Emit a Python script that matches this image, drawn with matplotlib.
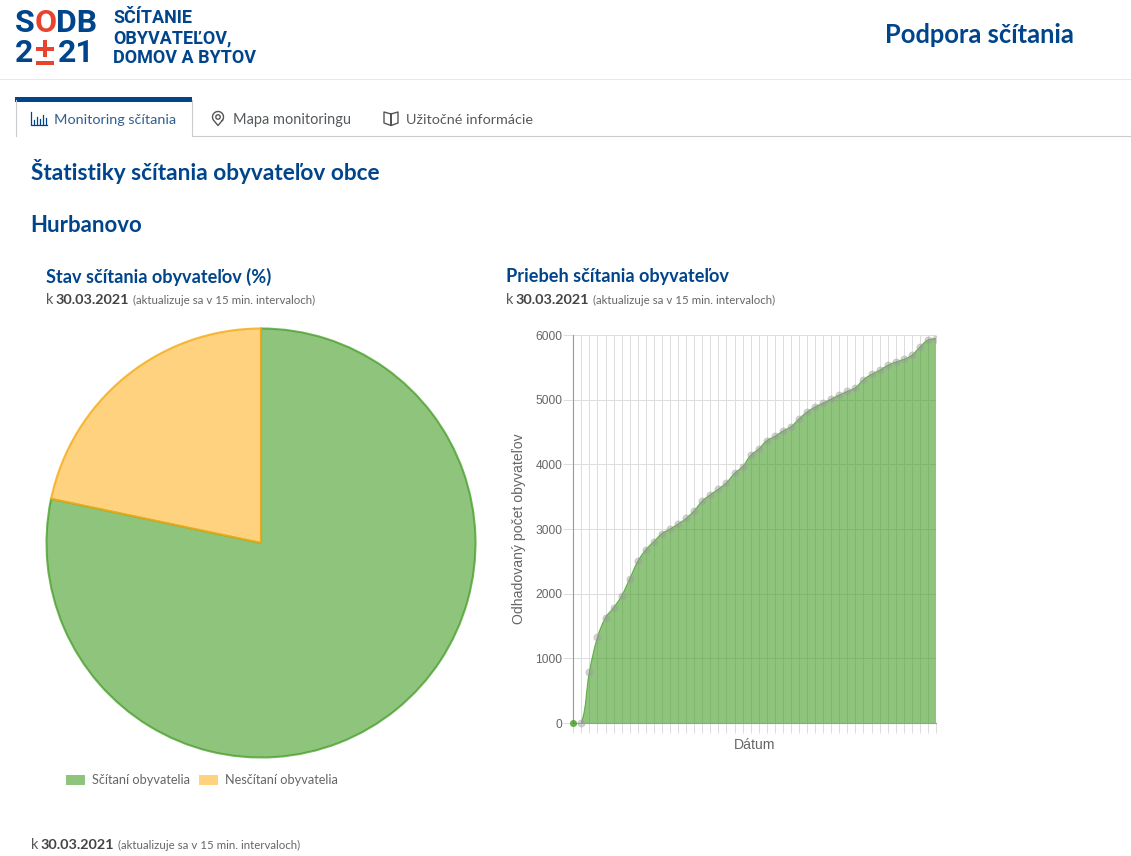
import numpy as np
import matplotlib
matplotlib.use('Agg')
import matplotlib.pyplot as plt
from matplotlib.patches import Rectangle, Circle, PathPatch, Patch
from matplotlib.path import Path

# values
day_index = list(range(46))
people = [0, 0, 794, 1325, 1630, 1783, 1969, 2232, 2500, 2680, 2804, 2930, 3000, 3077, 3165,
          3283, 3433, 3530, 3618, 3716, 3860, 3964, 4139, 4237, 4366, 4433, 4515, 4582, 4701,
          4809, 4887, 4948, 5010, 5072, 5129, 5186, 5309, 5392, 5454, 5531, 5582, 5624, 5686,
          5814, 5923, 5943]
y_ticks = [0, 1000, 2000, 3000, 4000, 5000, 6000]
pie_labels = ['Sčítaní obyvatelia', 'Nesčítaní obyvatelia']
pie_values = [78.3, 21.7]

W, H = 1131, 856
NAVY = '#00458b'
TXT = '#55595c'
RED = '#e8432e'
GREEN = (68/255, 157/255, 38/255, 0.6)
GREEN_EDGE = (68/255, 157/255, 38/255, 0.75)
YELLOW = (1, 180/255, 42/255, 0.6)
YELLOW_EDGE = (245/255, 170/255, 20/255, 0.8)
SANS = 'Lato'
LOGO = 'Roboto'

fig = plt.figure(figsize=(W/100, H/100), dpi=100)
page = fig.add_axes([0, 0, 1, 1])
page.set_xlim(0, W)
page.set_ylim(H, 0)
page.axis('off')


def put(x, y, s, px, color=TXT, weight='normal', family=SANS, ha='left'):
    page.text(x, y, s, fontsize=px*0.72, color=color, fontweight=weight, family=family, ha=ha, va='center')


def date_line(x, y):
    put(x, y, 'k', 14.5, TXT)
    put(x+10, y, '30.03.2021', 14.4, '#444444', 'bold')
    put(x+87, y, '(aktualizuje sa v 15 min. intervaloch)', 11.55, '#666666')


# header
page.add_patch(Rectangle((0, 79), W, 1, color='#e8e8e8', lw=0))
put(15, 23, 'S', 32, NAVY, 'bold', LOGO)
put(35, 23, 'O', 32, RED, 'bold', LOGO)
put(55.5, 23, 'DB', 32, NAVY, 'bold', LOGO)
put(15, 53, '2', 32, NAVY, 'bold', LOGO)
page.add_patch(Rectangle((36, 60.5), 17.5, 4, color=RED, lw=0))
page.add_patch(Rectangle((36, 46.5), 17.5, 4, color=RED, lw=0))
page.add_patch(Rectangle((42.8, 40), 4, 17, color=RED, lw=0))
put(58, 53, '21', 32, NAVY, 'bold', LOGO)
put(113, 18, 'SČÍTANIE', 18, NAVY, 'bold', LOGO)
put(113, 38, 'OBYVATEĽOV,', 18, NAVY, 'bold', LOGO)
put(113, 58, 'DOMOV A BYTOV', 18, NAVY, 'bold', LOGO)
put(1074, 35, 'Podpora sčítania', 25.5, NAVY, 'bold', ha='right')

# tabs
page.plot([192, W], [135.5, 135.5], color='#cccccc', lw=0.8)
page.plot([15.5, 15.5], [100, 136], color='#cccccc', lw=0.8)
page.plot([191.5, 191.5], [100, 136], color='#cccccc', lw=0.8)
page.add_patch(Rectangle((15, 97), 177, 5, color=NAVY, lw=0))
put(54, 120, 'Monitoring sčítania', 14.4, '#2f5f8f')
put(233, 120, 'Mapa monitoringu', 14.5, TXT)
put(406, 120, 'Užitočné informácie', 14.4, TXT)
# tab icons
page.plot([31, 31, 47], [112, 125, 125], color=NAVY, lw=0.9)
for bx, bt in zip([34, 37, 40, 43, 46], [120, 117, 119, 115, 118]):
    page.plot([bx, bx], [123.5, bt], color=NAVY, lw=0.9)
pin_t = np.linspace(-0.2*np.pi, 1.2*np.pi, 30)
page.plot(list(218+5.5*np.cos(pin_t)) + [218, 218+5.5*np.cos(pin_t[0])],
          list(117-5.5*np.sin(pin_t)) + [125.5, 117-5.5*np.sin(pin_t[0])], color='#555555', lw=1)
page.add_patch(Circle((218, 117), 2.2, fc='none', ec='#555555', lw=1))
page.plot([391, 384, 384, 391, 391, 391, 398, 398, 391], [114, 112, 123, 125.5, 114, 125.5, 123, 112, 114],
          color='#555555', lw=1)

# headings
put(31, 171, 'Štatistiky sčítania obyvateľov obce', 22.6, NAVY, 'bold')
put(30.5, 225, 'Hurbanovo', 22.3, NAVY, 'bold')
put(46, 276.5, 'Stav sčítania obyvateľov (%)', 18.2, NAVY, 'bold')
date_line(46, 300)
put(506, 276.5, 'Priebeh sčítania obyvateľov', 18.2, NAVY, 'bold')
date_line(506, 300)
date_line(31, 845)

# pie
cx, cy, r = 261, 543, 214.5
pie_ax = fig.add_axes([(cx-r)/W, 1-(cy+r)/H, 2*r/W, 2*r/H])
wedges, _ = pie_ax.pie(pie_values, colors=[GREEN, YELLOW], startangle=90, counterclock=False, radius=1,
                       wedgeprops={'linewidth': 1.5})
wedges[0].set_edgecolor(GREEN_EDGE)
wedges[1].set_edgecolor(YELLOW_EDGE)
pie_ax.set_xlim(-1, 1)
pie_ax.set_ylim(-1, 1)
for w in wedges:
    w.set_clip_on(False)

handles = [Patch(facecolor=GREEN, edgecolor='none'), Patch(facecolor=YELLOW, edgecolor='none')]
page.legend(handles, pie_labels, ncol=2, loc='center', bbox_to_anchor=(201.5, 780.5),
            bbox_transform=page.transData, frameon=False, prop={'family': SANS, 'size': 12.7*0.72},
            labelcolor='#666666', handlelength=1.5, handleheight=0.85, handletextpad=0.55, columnspacing=0.7,
            borderpad=0, borderaxespad=0)

# line chart
x0, x1, y0, y1 = 573.3, 936, 723, 335
ax = fig.add_axes([x0/W, 1-y0/H, (x1-x0)/W, (y0-y1)/H])
ax.set_xlim(0, 45)
ax.set_ylim(0, 6000)
ax.set_xticks(day_index)
ax.set_xticklabels([])
ax.set_yticks(y_ticks)
ax.tick_params(axis='both', length=7.2, width=0.72, color='#dddddd', labelcolor='#666666', pad=0.5)
for lab in ax.get_yticklabels():
    lab.set_family('Liberation Sans')
    lab.set_fontsize(12*0.72)
ax.grid(True, color='#dddddd', lw=0.72, zorder=0)
ax.set_axisbelow(True)
for side in ['top', 'right']:
    ax.spines[side].set_visible(False)
for side in ['left', 'bottom']:
    ax.spines[side].set_color('#999999')
    ax.spines[side].set_linewidth(0.8)
ax.set_xlabel('Dátum', family='Liberation Sans', fontsize=14*0.72, color='#666666', labelpad=3)
ax.set_ylabel('Odhadovaný počet obyvateľov', family='Liberation Sans', fontsize=14*0.72, color='#666666', labelpad=7)

# smooth the line the way the web chart does, tension 0.4
sx = (x1-x0)/45
sy = (y0-y1)/6000
px = np.array(day_index, dtype=float)
py = np.array(people, dtype=float)
verts = [(px[0], py[0])]
codes = [Path.MOVETO]
for i in range(len(px)-1):
    im = max(i-1, 0)
    ip = min(i+2, len(px)-1)
    d0 = np.hypot((px[i]-px[im])*sx, (py[i]-py[im])*sy)
    d1 = np.hypot((px[i+1]-px[i])*sx, (py[i+1]-py[i])*sy)
    d2 = np.hypot((px[ip]-px[i+1])*sx, (py[ip]-py[i+1])*sy)
    fa = 0.4*d1/(d0+d1) if i > 0 else 0
    fb = 0.4*d1/(d1+d2) if i+1 < len(px)-1 else 0
    c1 = (px[i]+fa*(px[i+1]-px[im]), py[i]+fa*(py[i+1]-py[im]))
    c2 = (px[i+1]-fb*(px[ip]-px[i]), py[i+1]-fb*(py[ip]-py[i]))
    verts += [c1, c2, (px[i+1], py[i+1])]
    codes += [Path.CURVE4]*3

fill_path = Path(verts + [(px[-1], 0), (px[0], 0), (px[0], 0)],
                 codes + [Path.LINETO, Path.LINETO, Path.CLOSEPOLY])
ax.add_patch(PathPatch(fill_path, fc=GREEN, ec='none', zorder=2))
ax.add_patch(PathPatch(Path(verts, codes), fc='none', ec=GREEN_EDGE, lw=0.8, zorder=3))
dots = ax.scatter(px[1:], py[1:], s=26, color=(0.6, 0.6, 0.6, 0.42), edgecolor=(0.65, 0.65, 0.65, 0.45), lw=0.7,
                  zorder=4)
# dots show past the axis at the bottom, but the last one is cut at the right edge
dots.set_clip_path(Rectangle((x0-10, 0), x1-x0+10, H, transform=page.transData))
ax.scatter(px[:1], py[:1], s=26, color=(68/255, 157/255, 38/255, 0.8), lw=0, clip_on=False, zorder=5)

plt.savefig('out.png', dpi=100)
